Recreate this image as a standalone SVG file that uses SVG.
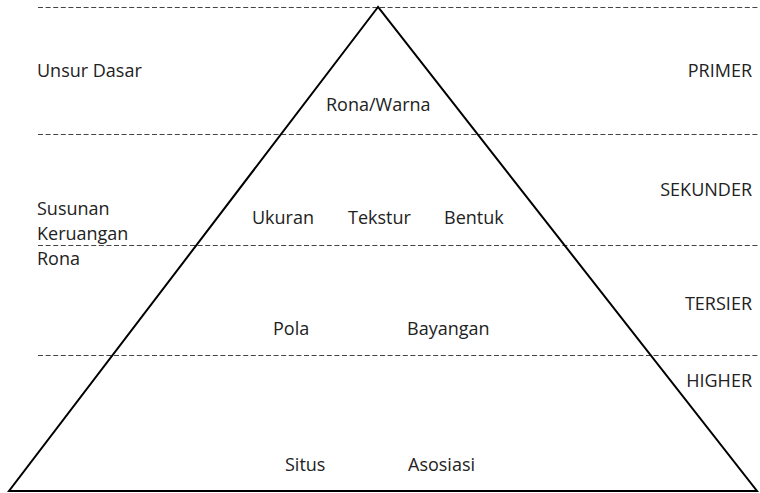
<svg xmlns="http://www.w3.org/2000/svg" width="760" height="493" viewBox="0 0 760 493">
  <style>
    .t { font-family: "Open Sans", "Liberation Sans", sans-serif; font-size: 18px; fill: #222222; }
    .r { text-anchor: end; }
    .dash { stroke: #444444; stroke-width: 1; stroke-dasharray: 5 2.6; fill: none; }
    .tri { stroke: #000000; stroke-width: 2; fill: none; stroke-linejoin: miter; }
  </style>
  <rect width="760" height="493" fill="#ffffff"/>
  <g id="levels">
    <line class="dash" x1="38" y1="7.5" x2="760" y2="7.5"/>
    <line class="dash" x1="38" y1="134.5" x2="760" y2="134.5"/>
    <line class="dash" x1="38" y1="245.5" x2="760" y2="245.5"/>
    <line class="dash" x1="38" y1="355.5" x2="760" y2="355.5"/>
  </g>
  <g id="pyramid">
    <polygon class="tri" points="378,7 9,491 757,491"/>
  </g>
  <g id="left-labels">
    <text class="t" x="37" y="77">Unsur Dasar</text>
    <text class="t" x="37" y="215">Susunan</text>
    <text class="t" x="37" y="240">Keruangan</text>
    <text class="t" x="37" y="265">Rona</text>
  </g>
  <g id="right-labels">
    <text class="t r" x="752" y="77">PRIMER</text>
    <text class="t r" x="752" y="196">SEKUNDER</text>
    <text class="t r" x="752" y="310">TERSIER</text>
    <text class="t r" x="752" y="387">HIGHER</text>
  </g>
  <g id="primer">
    <text class="t" x="326" y="111">Rona/Warna</text>
  </g>
  <g id="sekunder">
    <text class="t" x="252" y="224">Ukuran</text>
    <text class="t" x="348" y="224">Tekstur</text>
    <text class="t" x="444" y="224">Bentuk</text>
  </g>
  <g id="tersier">
    <text class="t" x="273" y="335">Pola</text>
    <text class="t" x="407" y="335">Bayangan</text>
  </g>
  <g id="higher">
    <text class="t" x="285" y="471">Situs</text>
    <text class="t" x="408" y="471">Asosiasi</text>
  </g>
</svg>
